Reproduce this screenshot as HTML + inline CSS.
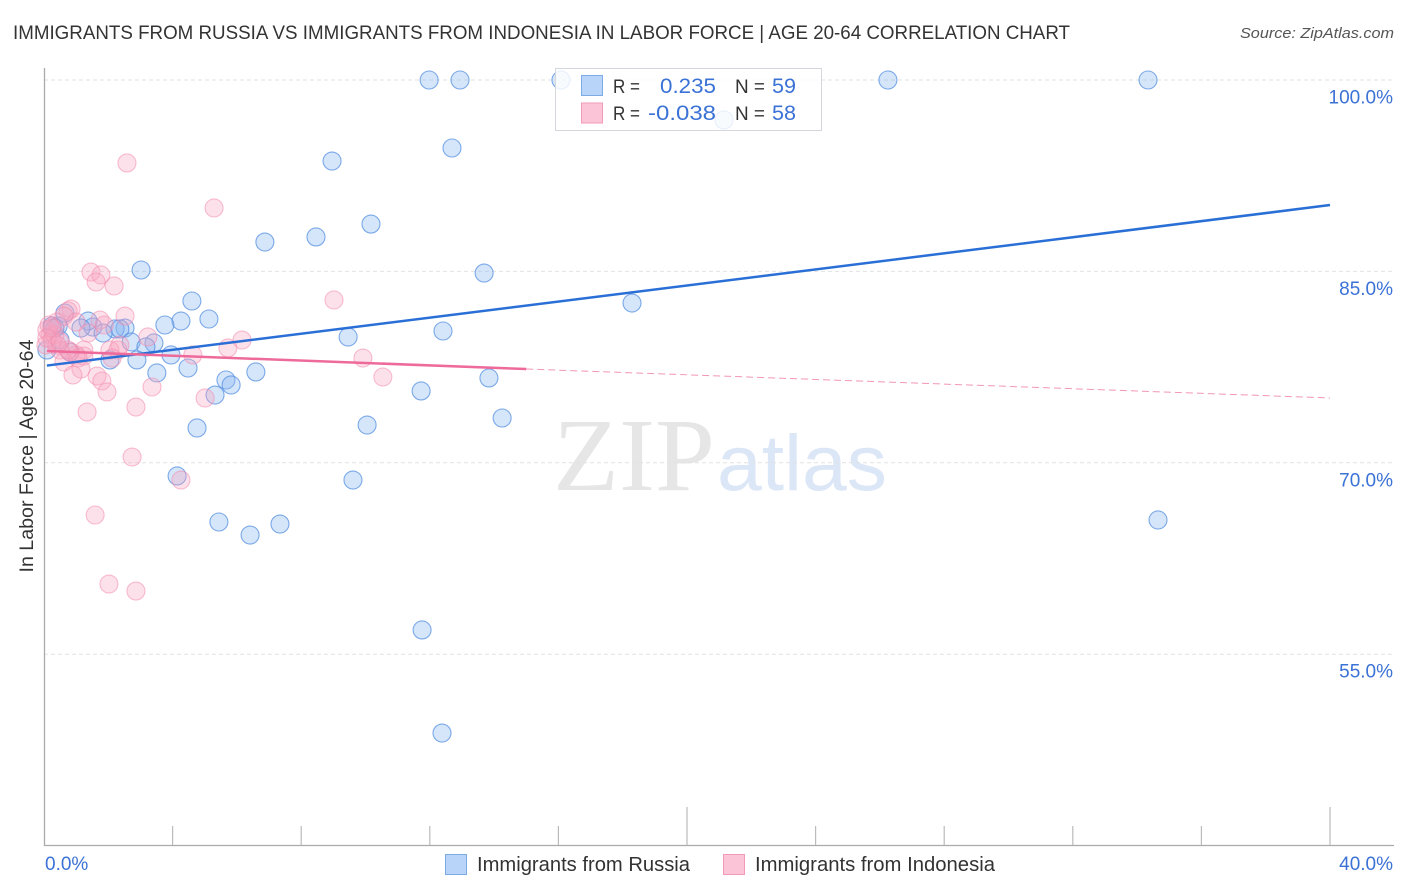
<!DOCTYPE html>
<html lang="en">
<head>
<meta charset="utf-8">
<title>Immigrants from Russia vs Immigrants from Indonesia in Labor Force | Age 20-64 Correlation Chart</title>
<style>
html,body{margin:0;padding:0;background:#fff;width:1406px;height:892px;overflow:hidden}
svg{display:block;font-family:"Liberation Sans",sans-serif}
</style>
</head>
<body>
<svg id="chart" width="1406" height="892" viewBox="0 0 1406 892" xmlns="http://www.w3.org/2000/svg">
  <text x="13" y="39" font-size="19" fill="#333" textLength="1057" lengthAdjust="spacingAndGlyphs">IMMIGRANTS FROM RUSSIA VS IMMIGRANTS FROM INDONESIA IN LABOR FORCE | AGE 20-64 CORRELATION CHART</text>
  <text x="1394" y="38" font-size="15" font-style="italic" fill="#555" text-anchor="end" textLength="154" lengthAdjust="spacingAndGlyphs">Source: ZipAtlas.com</text>

  <g>
    <text x="553" y="490" font-family="'Liberation Serif',serif" font-size="104" fill="#e6e6e6" textLength="162" lengthAdjust="spacingAndGlyphs">ZIP</text>
    <text x="717" y="490" font-size="79" fill="#dbe6f7" textLength="170" lengthAdjust="spacingAndGlyphs">atlas</text>
  </g>

  <g id="grid"></g>
  <g id="yLabels"></g>
  <g id="axes"></g>
  <g id="xLabels"></g>
  <g id="russiaPoints"></g>
  <g id="indonesiaPoints"></g>
  <g id="trends"></g>

  <text transform="translate(33,456) rotate(-90)" font-size="19" fill="#333" text-anchor="middle" textLength="233" lengthAdjust="spacingAndGlyphs">In Labor Force | Age 20-64</text>

  <g>
    <rect x="555.5" y="68.5" width="266" height="62" fill="#fff" fill-opacity="0.82" stroke="#d4d6dc" stroke-width="1"/>
    <rect x="581.5" y="75.5" width="21" height="20" fill="#b8d4f8" stroke="#7eaae6" stroke-width="1"/>
    <rect x="581.5" y="103" width="21" height="20" fill="#fcc5d7" stroke="#f29ab8" stroke-width="1"/>
    <text x="613" y="93" font-size="19" fill="#333" textLength="27" lengthAdjust="spacingAndGlyphs">R =</text>
    <text x="716" y="93" font-size="21" fill="#3b72d6" text-anchor="end" textLength="56" lengthAdjust="spacingAndGlyphs">0.235</text>
    <text x="735" y="93" font-size="19" fill="#333" textLength="30" lengthAdjust="spacingAndGlyphs">N =</text>
    <text x="796" y="93" font-size="21" fill="#3b72d6" text-anchor="end" textLength="24" lengthAdjust="spacingAndGlyphs">59</text>
    <text x="613" y="120" font-size="19" fill="#333" textLength="27" lengthAdjust="spacingAndGlyphs">R =</text>
    <text x="716" y="120" font-size="21" fill="#3b72d6" text-anchor="end" textLength="68" lengthAdjust="spacingAndGlyphs">-0.038</text>
    <text x="735" y="120" font-size="19" fill="#333" textLength="30" lengthAdjust="spacingAndGlyphs">N =</text>
    <text x="796" y="120" font-size="21" fill="#3b72d6" text-anchor="end" textLength="24" lengthAdjust="spacingAndGlyphs">58</text>
  </g>

  <g>
    <rect x="445.5" y="854.5" width="21" height="20" fill="#b8d4f8" stroke="#7eaae6" stroke-width="1"/>
    <text x="477" y="871" font-size="20" fill="#333" textLength="213" lengthAdjust="spacingAndGlyphs">Immigrants from Russia</text>
    <rect x="723.5" y="854.5" width="21" height="20" fill="#fcc5d7" stroke="#f29ab8" stroke-width="1"/>
    <text x="755" y="871" font-size="20" fill="#333" textLength="240" lengthAdjust="spacingAndGlyphs">Immigrants from Indonesia</text>
  </g>
</svg>

<script>
const russiaX = [11.98,12.94,16.08,26.25,34.34,21.15,12.69,8.96,10.17,8.46,6.87,3.02,13.69,4.60,18.29,5.13,4.26,3.76,12.41,9.46,2.52,2.21,2.36,1.52,1.37,1.84,1.15,0.44,0.25,0.65,2.71,3.42,3.17,3.95,2.89,2.05,4.48,3.51,6.59,5.66,5.82,5.32,11.73,13.84,14.25,10.05,4.76,4.14,9.61,5.44,7.34,6.41,34.65,11.76,12.38,0.81,0.50,0.09,0.34];
const russiaY = [100,100,100,100,100,96.87,94.67,93.65,88.71,87.70,87.30,85.11,84.87,82.68,82.52,81.27,81.11,80.80,80.33,79.86,80.56,80.49,80.49,80.64,81.11,80.17,80.56,80.72,80.72,81.74,79.47,79.39,79.08,78.45,78.06,78.06,77.43,77.04,77.12,76.49,76.10,75.31,75.63,76.65,73.51,72.96,72.73,68.97,68.65,65.36,65.20,64.34,65.52,56.90,48.82,78.68,79.62,78.84,80.56];
const indonesiaX = [2.58,5.29,1.46,1.77,1.62,2.18,9.02,0.84,0.75,0.62,0.40,2.52,1.74,1.87,1.00,1.37,3.23,6.16,5.72,2.36,4.63,9.92,2.05,2.30,1.24,1.24,1.00,0.81,0.50,0.19,0.09,0.25,0.06,0.34,0.40,0.62,1.06,1.15,0.90,1.65,1.80,1.96,3.36,5.01,2.86,1.34,10.54,2.74,4.26,1.59,2.02,2.86,0.16,0.25,0.09,0.50,2.12,0.75];
const indonesiaY = [93.50,89.97,84.95,84.72,84.17,83.86,82.76,82.05,81.90,81.50,81.03,81.50,81.19,80.80,81.03,80.17,79.86,79.62,79.00,79.23,78.45,78.21,78.84,78.84,78.84,78.37,78.45,78.68,78.84,80.02,80.41,79.62,79.23,80.02,79.23,77.90,78.21,77.35,76.88,76.80,76.41,75.55,75.94,75.08,74.37,73.98,76.72,70.45,68.65,65.91,60.50,59.95,80.80,80.56,79.78,79.47,78.21,78.84];
const russiaTrendX = [0.09,40];
const russiaTrendY = [77.62,90.20];
const indonesiaSolidX = [0.09,15];
const indonesiaSolidY = [78.76,77.35];
const indonesiaDashX = [15,40];
const indonesiaDashY = [77.35,75.08];
const yTicks = [100,85,70,55];
const yTickLabels = ["100.0%","85.0%","70.0%","55.0%"];
const xTicks = [4,8,12,16,20,24,28,32,36,40];
const xMajorTicks = [20,40];
const xEndTicks = [0,40];
const xEndLabels = ["0.0%","40.0%"];

const NS = "http://www.w3.org/2000/svg";
const xScale = v => 44 + v * 32.15;
const yScale = v => 80 + (100 - v) * 12.76;
const make = (parent, tag, attrs) => {
  const el = document.createElementNS(NS, tag);
  for (const k in attrs) el.setAttribute(k, attrs[k]);
  document.getElementById(parent).appendChild(el);
  return el;
};

yTicks.forEach((t, i) => {
  const g = make("grid", "line", {x1: 44, x2: 1394, y1: yScale(t), y2: yScale(t), stroke: "#e2e2e2", "stroke-width": 1, "stroke-dasharray": "4 3"});
  
  
  const l = make("yLabels", "text", {x: 1393, y: yScale(t) + 23.5, "font-size": 19, fill: "#3b72d6", "text-anchor": "end"});
  
  
  l.textContent = yTickLabels[i];
});

const yAxis = make("axes", "line", {x1: 44.5, x2: 44.5, y1: 68, y2: 846, stroke: "#aaa", "stroke-width": 1.3});


const xAxis = make("axes", "line", {x1: 44, x2: 1394, y1: 845.5, y2: 845.5, stroke: "#aaa", "stroke-width": 1.3});



xTicks.forEach(t => {
  const top = xMajorTicks.includes(t) ? 807 : 826;
  const tk = make("axes", "line", {x1: xScale(t), x2: xScale(t), y1: top, y2: 845, stroke: "#bbb", "stroke-width": 1.2});
  
  
});

xEndTicks.forEach((t, i) => {
  const l = make("xLabels", "text", {x: i === 0 ? xScale(t) + 1 : 1393, y: 870, "font-size": 19, fill: "#3b72d6", "text-anchor": i === 0 ? "start" : "end"});
  
  
  l.textContent = xEndLabels[i];
});

russiaX.forEach((x, i) => {
  const c = make("russiaPoints", "circle", {cx: xScale(x), cy: yScale(russiaY[i]), r: 9, fill: "#8ab8f2", "fill-opacity": 0.36, stroke: "#5590e2", "stroke-opacity": 0.75, "stroke-width": 1.1});
  
  
});

indonesiaX.forEach((x, i) => {
  const c = make("indonesiaPoints", "circle", {cx: xScale(x), cy: yScale(indonesiaY[i]), r: 9, fill: "#f8a5c0", "fill-opacity": 0.33, stroke: "#f28aad", "stroke-opacity": 0.55, "stroke-width": 1.1});
  
  
});

const rt = make("trends", "line", {x1: xScale(russiaTrendX[0]), y1: yScale(russiaTrendY[0]), x2: xScale(russiaTrendX[1]), y2: yScale(russiaTrendY[1]), stroke: "#2a6fd6", "stroke-width": 2.5});


const it = make("trends", "line", {x1: xScale(indonesiaSolidX[0]), y1: yScale(indonesiaSolidY[0]), x2: xScale(indonesiaSolidX[1]), y2: yScale(indonesiaSolidY[1]), stroke: "#ee6a9a", "stroke-width": 2.5});


const id = make("trends", "line", {x1: xScale(indonesiaDashX[0]), y1: yScale(indonesiaDashY[0]), x2: xScale(indonesiaDashX[1]), y2: yScale(indonesiaDashY[1]), stroke: "#ee6a9a", "stroke-opacity": 0.7, "stroke-width": 1, "stroke-dasharray": "7 4"});


</script>
</body>
</html>
